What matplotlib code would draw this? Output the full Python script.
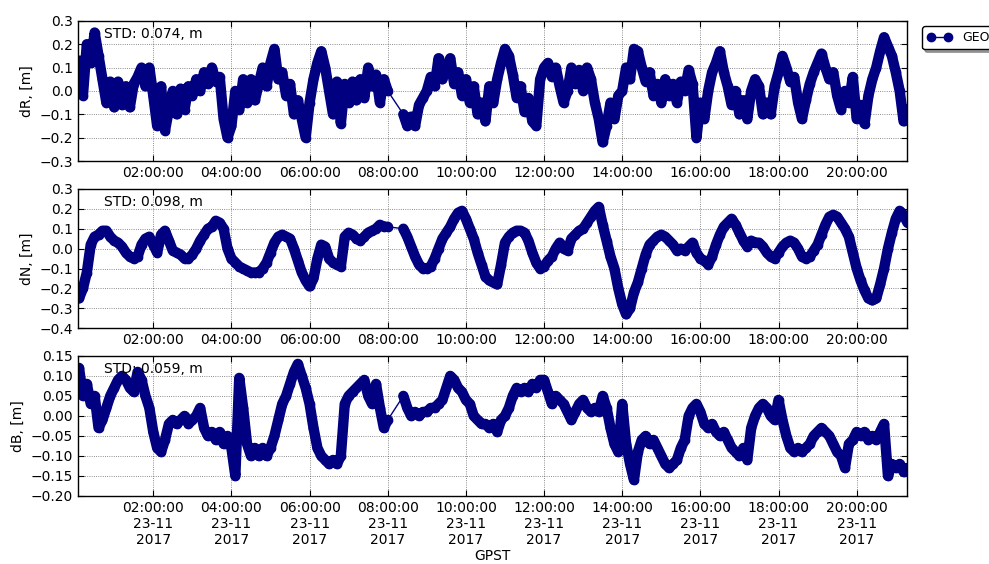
import numpy as np
import pandas as pd
import matplotlib
matplotlib.use("Agg")
import matplotlib.pyplot as plt
import matplotlib.dates as mdates


DAY = "2017-11-23"

# sample times in hours of the day (every 6 min), None = data gap
hours = np.round(np.arange(0.1, 21.31, 0.1), 1)

dR = [
    0.13, -0.02, 0.20, 0.12, 0.25, 0.15, 0.05, -0.05, 0.04,
    -0.07, 0.04, -0.06, 0.02, -0.07, 0.03, 0.06, 0.10, 0.02, 0.10,
    -0.02, -0.15, 0.02, -0.17, -0.08, 0.00, -0.10, 0.01, -0.08, 0.02,
    -0.02, 0.05, 0.00, 0.08, 0.03, 0.10, 0.04, 0.06, -0.12, -0.20,
    -0.15, 0.00, -0.08, 0.05, -0.05, 0.05, -0.04, 0.03, 0.10, 0.02,
    0.12, 0.18, 0.05, 0.08, -0.02, 0.03, -0.10, -0.04, -0.12, -0.20,
    -0.05, 0.05, 0.12, 0.17, 0.10, 0.00, -0.10, 0.04, -0.14, 0.03,
    -0.05, 0.04, -0.04, 0.05, -0.03, 0.10, 0.02, 0.07, -0.05, 0.05,
    0.00, None, None, None, -0.10, -0.15, -0.11, -0.15, -0.06, -0.03,
    0.00, 0.06, 0.02, 0.14, 0.05, 0.10, 0.14, 0.03, 0.08, -0.02,
    0.05, -0.05, 0.02, -0.10, -0.05, -0.13, 0.02, -0.05, 0.05, 0.12,
    0.18, 0.15, 0.07, -0.03, 0.02, -0.09, -0.03, -0.13, -0.15, 0.05,
    0.10, 0.12, 0.06, 0.10, 0.02, -0.05, 0.00, 0.10, 0.03, 0.09,
    0.00, 0.10, 0.05, -0.05, -0.12, -0.22, -0.15, -0.05, -0.12, -0.02,
    0.00, 0.10, 0.05, 0.18, 0.17, 0.10, 0.04, 0.08, -0.02, 0.03,
    -0.05, 0.05, -0.02, 0.03, -0.05, 0.04, 0.00, 0.09, 0.03, -0.20,
    -0.05, -0.12, 0.00, 0.08, 0.12, 0.17, 0.08, 0.02, -0.06, 0.00,
    -0.10, -0.04, -0.12, 0.00, 0.05, 0.02, -0.10, -0.05, -0.10, 0.02,
    0.08, 0.15, 0.10, 0.04, 0.06, -0.05, -0.12, -0.04, 0.03, 0.08,
    0.12, 0.16, 0.10, 0.05, 0.08, -0.02, -0.08, 0.00, -0.05, 0.06,
    -0.12, -0.06, -0.14, -0.02, 0.05, 0.10, 0.17, 0.23, 0.19, 0.15,
    0.08, 0.00, -0.13, -0.08,
]

dN = [
    -0.25, -0.20, -0.12, 0.02, 0.06, 0.07, 0.09, 0.09, 0.06,
    0.04, 0.03, 0.01, -0.02, -0.04, -0.05, -0.04, 0.02, 0.05, 0.06,
    0.02, -0.02, 0.07, 0.09, 0.04, -0.01, -0.02, -0.03, -0.05, -0.05,
    -0.03, 0.00, 0.04, 0.07, 0.10, 0.11, 0.14, 0.13, 0.10, 0.00,
    -0.05, -0.07, -0.09, -0.10, -0.11, -0.12, -0.12, -0.12, -0.10, -0.07,
    -0.02, 0.03, 0.06, 0.07, 0.06, 0.05, 0.00, -0.06, -0.12, -0.16,
    -0.19, -0.15, -0.05, 0.02, 0.01, -0.05, -0.07, -0.08, -0.09, 0.06,
    0.08, 0.07, 0.05, 0.04, 0.06, 0.08, 0.09, 0.10, 0.12, 0.11,
    0.11, None, None, None, 0.10, 0.06, 0.01, -0.04, -0.08, -0.10,
    -0.10, -0.09, -0.05, 0.00, 0.05, 0.08, 0.11, 0.15, 0.18, 0.19,
    0.15, 0.10, 0.05, -0.02, -0.08, -0.14, -0.16, -0.17, -0.18, -0.08,
    0.03, 0.06, 0.08, 0.09, 0.09, 0.08, 0.04, -0.02, -0.07, -0.10,
    -0.09, -0.06, -0.04, 0.00, 0.03, 0.00, -0.01, 0.05, 0.07, 0.09,
    0.10, 0.13, 0.16, 0.19, 0.21, 0.12, 0.04, -0.04, -0.10, -0.20,
    -0.28, -0.33, -0.30, -0.22, -0.17, -0.10, -0.03, 0.02, 0.04, 0.06,
    0.07, 0.06, 0.04, 0.02, -0.01, 0.00, -0.01, 0.01, 0.03, -0.02,
    -0.05, -0.06, -0.08, -0.04, 0.02, 0.07, 0.11, 0.13, 0.15, 0.12,
    0.08, 0.04, 0.01, 0.04, 0.03, 0.03, 0.01, -0.02, -0.04, -0.05,
    -0.02, 0.01, 0.03, 0.04, 0.03, 0.00, -0.04, -0.05, -0.04, -0.01,
    0.02, 0.07, 0.12, 0.16, 0.17, 0.16, 0.13, 0.10, 0.06, -0.02,
    -0.10, -0.16, -0.21, -0.25, -0.26, -0.25, -0.18, -0.10, 0.00, 0.08,
    0.15, 0.19, 0.17, 0.13,
]

dB = [
    0.12, 0.05, 0.08, 0.03, 0.05, -0.03, -0.01, 0.02, 0.05,
    0.07, 0.09, 0.10, 0.09, 0.07, 0.06, 0.11, 0.09, 0.05, 0.02,
    -0.04, -0.08, -0.09, -0.06, -0.02, -0.01, -0.02, -0.01, 0.00, -0.02,
    -0.01, 0.00, 0.02, -0.03, -0.05, -0.04, -0.06, -0.04, -0.07, -0.05,
    -0.08, -0.15, 0.095, 0.02, -0.07, -0.10, -0.08, -0.10, -0.08, -0.10,
    -0.08, -0.05, -0.01, 0.03, 0.05, 0.08, 0.11, 0.13, 0.10, 0.07,
    0.03, -0.03, -0.08, -0.10, -0.11, -0.12, -0.11, -0.12, -0.10, 0.03,
    0.05, 0.06, 0.07, 0.08, 0.09, 0.05, 0.03, 0.08, 0.02, -0.03,
    -0.01, None, None, None, 0.05, 0.02, 0.00, 0.01, 0.00, 0.01,
    0.01, 0.02, 0.02, 0.03, 0.04, 0.07, 0.10, 0.09, 0.07, 0.06,
    0.04, 0.03, 0.00, -0.01, -0.02, -0.02, -0.03, -0.02, -0.04, -0.01,
    0.00, 0.02, 0.05, 0.07, 0.06, 0.07, 0.06, 0.08, 0.07, 0.09,
    0.09, 0.06, 0.03, 0.05, 0.04, 0.03, 0.01, -0.01, 0.01, 0.03,
    0.04, 0.02, 0.01, 0.02, 0.01, 0.05, 0.02, -0.03, -0.07, -0.09,
    0.03, -0.07, -0.12, -0.16, -0.09, -0.06, -0.05, -0.07, -0.06, -0.08,
    -0.10, -0.12, -0.13, -0.12, -0.11, -0.08, -0.06, 0.00, 0.02, 0.03,
    0.01, -0.02, -0.03, -0.02, -0.04, -0.05, -0.04, -0.06, -0.08, -0.09,
    -0.10, -0.08, -0.11, -0.03, 0.00, 0.02, 0.03, 0.02, 0.00, -0.01,
    0.04, -0.01, -0.05, -0.08, -0.09, -0.08, -0.09, -0.08, -0.07, -0.05,
    -0.04, -0.03, -0.04, -0.05, -0.07, -0.09, -0.10, -0.13, -0.07, -0.06,
    -0.04, -0.05, -0.04, -0.06, -0.05, -0.06, -0.04, -0.02, -0.15, -0.12,
    -0.13, -0.12, -0.14, -0.13,
]

panels = [
    ("dR, [m]", dR, "STD: 0.074, m", (-0.3, 0.3), np.arange(-0.3, 0.31, 0.1)),
    ("dN, [m]", dN, "STD: 0.098, m", (-0.4, 0.3), np.arange(-0.4, 0.31, 0.1)),
    ("dB, [m]", dB, "STD: 0.059, m", (-0.2, 0.15), np.arange(-0.2, 0.151, 0.05)),
]

COLOR = "#000080"

base = pd.Timestamp(DAY)
times = base + pd.to_timedelta(hours, unit="h")

plt.rcParams["font.family"] = "DejaVu Sans"
plt.rcParams["font.size"] = 10

fig = plt.figure(figsize=(9.89, 5.64), dpi=100)
boxes = [(0.963, 0.7145), (0.665, 0.418), (0.369, 0.1206)]

for i, (label, vals, std, ylim, yticks) in enumerate(panels):
    top, bottom = boxes[i]
    ax = fig.add_axes([0.0789, bottom, 0.8383, top - bottom])

    raw = pd.Series(vals, index=times, dtype=float)
    s = raw.dropna()

    # dense band (broken at data gaps), then the markers with a thin line
    ax.plot(raw.index, raw.values, "-", color=COLOR, lw=7.5,
            solid_joinstyle="round", solid_capstyle="round")
    ax.plot(s.index, s.values, "-o", color=COLOR, mec=COLOR,
            ms=6, lw=1, label="GEO")

    ax.set_xlim(base + pd.Timedelta(hours=0.075), base + pd.Timedelta(hours=21.29))
    ax.set_ylim(*ylim)
    ax.set_yticks(yticks)
    ax.set_ylabel(label, fontsize=10, labelpad=4)

    ax.xaxis.set_major_locator(mdates.HourLocator(byhour=range(2, 24, 2)))
    if i == 2:
        ax.xaxis.set_major_formatter(mdates.DateFormatter("%H:%M:%S\n%d-%m\n%Y"))
        ax.set_xlabel("GPST", fontsize=10, labelpad=1)
    else:
        ax.xaxis.set_major_formatter(mdates.DateFormatter("%H:%M:%S"))
    for lab in ax.get_xticklabels():
        lab.set_ha("center")

    ax.grid(True, linestyle=":", color="black", linewidth=0.6, alpha=0.6)
    ax.tick_params(direction="in", top=True, right=True, length=4, labelsize=10)
    for sp in ax.spines.values():
        sp.set_linewidth(1.0)

    ax.text(0.031, 0.907, std, transform=ax.transAxes, va="center", fontsize=10)

    if i == 0:
        ax.legend(loc="upper left", bbox_to_anchor=(1.018, 0.96), borderaxespad=0,
                  numpoints=2, fontsize=9, fancybox=True, shadow=True,
                  framealpha=1, edgecolor="black", handlelength=2.0)

fig.savefig("out.png", dpi=100, facecolor="white")
